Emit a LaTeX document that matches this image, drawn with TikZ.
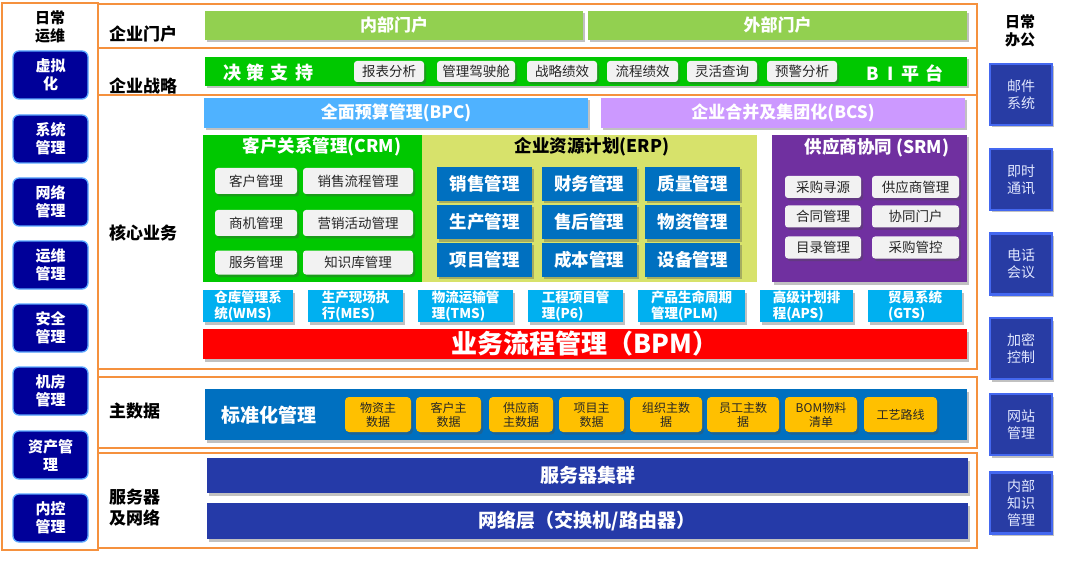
\documentclass[tikz,border=0pt]{standalone}
\usepackage{fontspec}
\setmainfont{Noto Sans CJK SC}
\usetikzlibrary{shadows}
\definecolor{orangeC}{HTML}{F5913E}
\definecolor{navyL}{HTML}{000099}
\definecolor{portalG}{HTML}{92D050}
\definecolor{brightG}{HTML}{00C800}
\definecolor{greyB}{HTML}{F2F2F2}
\definecolor{bpcB}{HTML}{4FB2FF}
\definecolor{bcsP}{HTML}{CC99FF}
\definecolor{erpY}{HTML}{D7E26B}
\definecolor{blueE}{HTML}{0070C0}
\definecolor{srmP}{HTML}{7030A0}
\definecolor{cyanB}{HTML}{00B0F0}
\definecolor{yelB}{HTML}{FFC000}
\definecolor{srvB}{HTML}{253AA8}
\definecolor{rFill}{HTML}{283CA4}
\definecolor{rEdge}{HTML}{4468F0}
\definecolor{rText}{HTML}{E2E8FF}
\definecolor{lEdge}{HTML}{5AA8FF}
\tikzset{
  sec/.style={draw=orangeC, line width=1.5pt},
  lbl/.style={font=\bfseries\fontsize{17}{21}\selectfont, anchor=west, align=left, inner sep=0pt},
  base/.style={inner sep=0pt, align=center},
  shd/.style={drop shadow={shadow xshift=2pt, shadow yshift=-2.5pt, opacity=0.35, fill=black!70}},
  lbox/.style={base, fill=navyL, draw=lEdge, line width=1.3pt, rounded corners=6pt,
    minimum width=75pt, minimum height=48pt, text=white, font=\bfseries\fontsize{15}{18}\selectfont},
  coltitle/.style={base, font=\bfseries\fontsize{15}{18}\selectfont},
  portal/.style={base, shd, fill=portalG, minimum height=29pt, text=white, font=\bfseries\fontsize{17}{20}\selectfont},
  gbox/.style={base, shd, fill=greyB, rounded corners=3pt, text=black!85, font=\fontsize{13.5}{15}\selectfont},
  wide/.style={base, shd, minimum height=30pt, text=white, font=\bfseries\fontsize{17}{20}\selectfont},
  ebox/.style={base, shd, fill=blueE, minimum width=95pt, minimum height=34pt, text=white, font=\bfseries\fontsize{17.5}{20}\selectfont},
  cbox/.style={base, shd, fill=cyanB, minimum height=32pt, text=white, align=left, font=\bfseries\fontsize{13.5}{15.5}\selectfont},
  ybox/.style={base, shd, fill=yelB, rounded corners=4pt, minimum height=35pt, text=black!85, font=\fontsize{12}{14}\selectfont},
  sbar/.style={base, shd, fill=srvB, minimum width=761pt, minimum height=35pt, text=white, font=\bfseries\fontsize{19}{22}\selectfont},
  rbox/.style={base, shd, fill=rFill, draw=rEdge, line width=2.5pt, minimum width=62pt, minimum height=61pt, text=rText, font=\fontsize{14}{17}\selectfont},
  ttl/.style={base, font=\bfseries\fontsize{17.5}{20}\selectfont},
}
\begin{document}
\begin{tikzpicture}[x=1pt,y=-1pt]
\useasboundingbox (0,0) rectangle (1080,567);
% left column
\draw[sec] (2,3) rectangle (98,550);
\node[coltitle] (ltitle) at (50,27) {日常\\运维};
\node[lbox] (l1) at (50.5,75) {虚拟\\化};
\node[lbox] (l2) at (50.5,139) {系统\\管理};
\node[lbox] (l3) at (50.5,202) {网络\\管理};
\node[lbox] (l4) at (50.5,265) {运维\\管理};
\node[lbox] (l5) at (50.5,328) {安全\\管理};
\node[lbox] (l6) at (50.5,391) {机房\\管理};
\node[lbox] (l7) at (50.5,455) {资产管\\理};
\node[lbox] (l8) at (50.5,518) {内控\\管理};
% section frames
\draw[sec] (98,4) rectangle (977,48);
\draw[sec] (98,48) rectangle (977,95);
\draw[sec] (98,95) rectangle (977,369);
\draw[sec] (98,377) rectangle (977,448);
\draw[sec] (98,453) rectangle (977,548);
\node[lbl] (s1) at (109,34) {企业门户};
\node[lbl] (s2) at (109,86) {企业战略};
\node[lbl] (s3) at (109,233) {核心业务};
\node[lbl] (s4) at (109,411) {主数据};
\node[lbl] (s5) at (109,508) {服务器\\及网络};
% portals
\node[portal, minimum width=378pt] (p1) at (394,25.5) {内部门户};
\node[portal, minimum width=379pt] (p2) at (777.5,25.5) {外部门户};
% decision support
\node[base, shd, fill=brightG, minimum width=762pt, minimum height=29pt] (ds) at (586,71.5) {};
\node[base, text=white, font=\bfseries\fontsize{18}{20}\selectfont] (dst) at (268,73) {决\hspace{6pt}策\hspace{6pt}支\hspace{6pt}持};
\node[base, text=white, font=\bfseries\fontsize{18}{20}\selectfont] (bit) at (905,73) {B\hspace{8pt}I\hspace{8pt}平\hspace{6pt}台};
\node[gbox, minimum width=70pt, minimum height=21pt] (d1) at (389,71.5) {报表分析};
\node[gbox, minimum width=78pt, minimum height=21pt] (d2) at (476,71.5) {管理驾驶舱};
\node[gbox, minimum width=70pt, minimum height=21pt] (d3) at (562,71.5) {战略绩效};
\node[gbox, minimum width=71pt, minimum height=21pt] (d4) at (642.5,71.5) {流程绩效};
\node[gbox, minimum width=70pt, minimum height=21pt] (d5) at (722,71.5) {灵活查询};
\node[gbox, minimum width=70pt, minimum height=21pt] (d6) at (802,71.5) {预警分析};
% BPC / BCS
\node[wide, fill=bpcB, minimum width=384pt] (bpc) at (396,113) {全面预算管理(BPC)};
\node[wide, fill=bcsP, minimum width=364pt] (bcs) at (783,113) {企业合并及集团化(BCS)};
% CRM
\node[base, fill=brightG, minimum width=219pt, minimum height=147pt] (crm) at (312.5,208.5) {};
\node[ttl, text=white] (crmt) at (322,147) {客户关系管理(CRM)};
\node[gbox, minimum width=82pt, minimum height=26pt] (c1) at (256,181) {客户管理};
\node[gbox, minimum width=110pt, minimum height=26pt] (c2) at (358,181) {销售流程管理};
\node[gbox, minimum width=82pt, minimum height=26pt] (c3) at (256,223) {商机管理};
\node[gbox, minimum width=110pt, minimum height=26pt] (c4) at (358,223) {营销活动管理};
\node[gbox, minimum width=82pt, minimum height=24pt] (c5) at (256,262.5) {服务管理};
\node[gbox, minimum width=110pt, minimum height=24pt] (c6) at (358,262.5) {知识库管理};
% ERP
\node[base, fill=erpY, minimum width=335pt, minimum height=147pt] (erp) at (589.5,208.5) {};
\node[ttl, text=black] (erpt) at (592,147) {企业资源计划(ERP)};
\node[ebox] (e1) at (484.5,184) {销售管理};
\node[ebox] (e2) at (589,184) {财务管理};
\node[ebox] (e3) at (692.5,184) {质量管理};
\node[ebox] (e4) at (484.5,222) {生产管理};
\node[ebox] (e5) at (589,222) {售后管理};
\node[ebox] (e6) at (692.5,222) {物资管理};
\node[ebox] (e7) at (484.5,259.5) {项目管理};
\node[ebox] (e8) at (589,259.5) {成本管理};
\node[ebox] (e9) at (692.5,259.5) {设备管理};
% SRM
\node[base, shd, fill=srmP, minimum width=195pt, minimum height=147pt] (srm) at (869.5,208.5) {};
\node[ttl, text=white] (srmt) at (877,148) {供应商协同 (SRM)};
\node[gbox, minimum width=76pt, minimum height=22pt] (r1) at (823,187) {采购寻源};
\node[gbox, minimum width=87pt, minimum height=22pt] (r2) at (915.5,187) {供应商管理};
\node[gbox, minimum width=76pt, minimum height=22pt] (r3) at (823,216.5) {合同管理};
\node[gbox, minimum width=87pt, minimum height=22pt] (r4) at (915.5,216.5) {协同门户};
\node[gbox, minimum width=76pt, minimum height=22pt] (r5) at (823,247.5) {目录管理};
\node[gbox, minimum width=87pt, minimum height=22pt] (r6) at (915.5,247.5) {采购管控};
% cyan systems
\node[cbox, minimum width=90pt] (k1) at (248,306) {仓库管理系\\统(WMS)};
\node[cbox, minimum width=95pt] (k2) at (355.5,306) {生产现场执\\行(MES)};
\node[cbox, minimum width=95pt] (k3) at (465.5,306) {物流运输管\\理(TMS)};
\node[cbox, minimum width=95pt] (k4) at (575.5,306) {工程项目管\\理(P6)};
\node[cbox, minimum width=107pt] (k5) at (691.5,306) {产品生命周期\\管理(PLM)};
\node[cbox, minimum width=93pt] (k6) at (806.5,306) {高级计划排\\程(APS)};
\node[cbox, minimum width=94pt] (k7) at (915,306) {贸易系统\\(GTS)};
% BPM
\node[base, shd, fill=red, minimum width=764pt, minimum height=30pt, text=white, font=\bfseries\fontsize{26}{30}\selectfont] (bpm) at (585,344) {业务流程管理（BPM）};
% master data
\node[base, shd, fill=blueE, minimum width=762pt, minimum height=51pt] (md) at (586,414.5) {};
\node[base, text=white, font=\bfseries\fontsize{19}{22}\selectfont] (mdt) at (269,415) {标准化管理};
\node[ybox, minimum width=66pt] (y1) at (378,414.5) {物资主\\数据};
\node[ybox, minimum width=65pt] (y2) at (448.5,414.5) {客户主\\数据};
\node[ybox, minimum width=64pt] (y3) at (521,414.5) {供应商\\主数据};
\node[ybox, minimum width=65pt] (y4) at (591.5,414.5) {项目主\\数据};
\node[ybox, minimum width=72pt] (y5) at (666,414.5) {组织主数\\据};
\node[ybox, minimum width=72pt] (y6) at (743,414.5) {员工主数\\据};
\node[ybox, minimum width=72pt] (y7) at (821,414.5) {BOM物料\\清单};
\node[ybox, minimum width=73pt] (y8) at (900.5,414.5) {工艺路线};
% servers / network
\node[sbar] (srv) at (587.5,475.5) {服务器集群};
\node[sbar, minimum height=36pt] (net) at (587,521) {网络层（交换机/路由器）};
% right column
\node[coltitle] (rtitle) at (1020,31) {日常\\办公};
\node[rbox] (o1) at (1021,94.5) {邮件\\系统};
\node[rbox] (o2) at (1021,179.5) {即时\\通讯};
\node[rbox] (o3) at (1021,264) {电话\\会议};
\node[rbox] (o4) at (1021,348.5) {加密\\控制};
\node[rbox] (o5) at (1021,424.5) {网站\\管理};
\node[rbox] (o6) at (1021,503) {内部\\知识\\管理};
\end{tikzpicture}
\end{document}
